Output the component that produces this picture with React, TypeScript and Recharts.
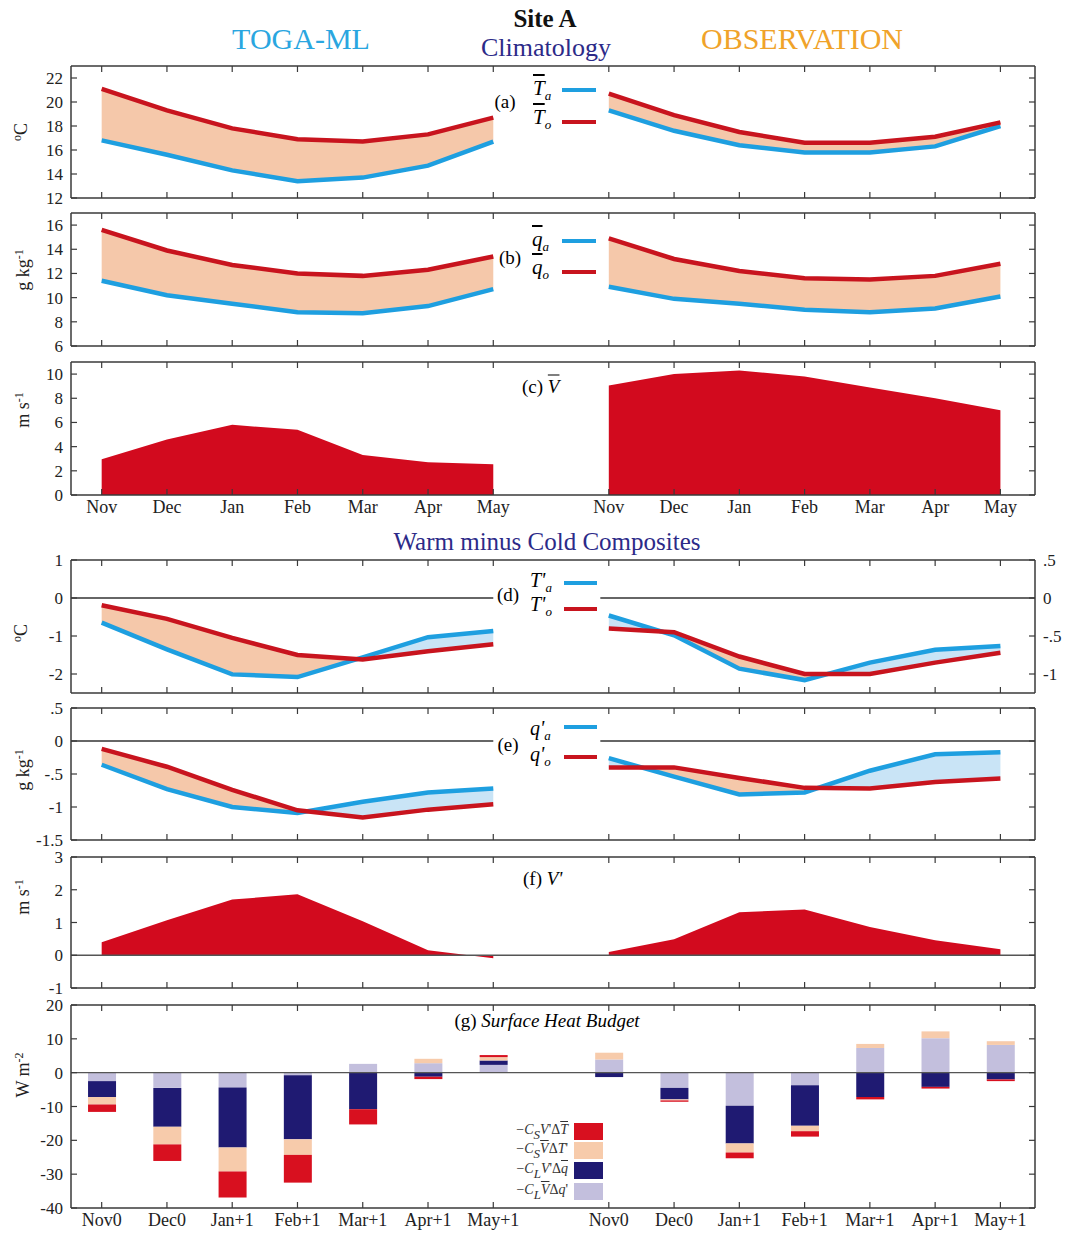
import React from 'react';
import { ComposedChart, Line, Area, Bar, XAxis, YAxis, ReferenceLine } from 'recharts';

// ---------- categories ----------
const MONTHS = ['Nov', 'Dec', 'Jan', 'Feb', 'Mar', 'Apr', 'May'];
const BUDGET_MONTHS = ['Nov0', 'Dec0', 'Jan+1', 'Feb+1', 'Mar+1', 'Apr+1', 'May+1'];

// ---------- (a) mean temperatures (°C) ----------
const TOGA_TA = [16.8, 15.6, 14.3, 13.4, 13.7, 14.7, 16.7];
const TOGA_TO = [21.1, 19.3, 17.8, 16.9, 16.7, 17.3, 18.7];
const OBS_TA = [19.3, 17.6, 16.4, 15.8, 15.8, 16.3, 18.0];
const OBS_TO = [20.7, 18.9, 17.5, 16.6, 16.6, 17.1, 18.3];

// ---------- (b) mean humidity (g/kg) ----------
const TOGA_QA = [11.4, 10.2, 9.5, 8.8, 8.7, 9.3, 10.7];
const TOGA_QO = [15.6, 13.9, 12.7, 12.0, 11.8, 12.3, 13.4];
const OBS_QA = [10.9, 9.9, 9.5, 9.0, 8.8, 9.1, 10.1];
const OBS_QO = [14.9, 13.2, 12.2, 11.6, 11.5, 11.8, 12.8];

// ---------- (c) mean wind speed (m/s) ----------
const TOGA_V = [2.96, 4.6, 5.8, 5.4, 3.3, 2.7, 2.55];
const OBS_V = [9.05, 10.0, 10.3, 9.8, 8.9, 8.0, 7.0];

// ---------- (d) temperature anomalies ----------
const TOGA_TA_ANOM = [-0.65, -1.35, -2.01, -2.08, -1.56, -1.03, -0.87];
const TOGA_TO_ANOM = [-0.19, -0.55, -1.05, -1.5, -1.62, -1.4, -1.22];
const OBS_TA_ANOM = [-0.23, -0.49, -0.93, -1.08, -0.85, -0.68, -0.63];
const OBS_TO_ANOM = [-0.4, -0.45, -0.77, -1.0, -1.0, -0.85, -0.72];

// ---------- (e) humidity anomalies ----------
const TOGA_QA_ANOM = [-0.36, -0.73, -1.0, -1.09, -0.92, -0.78, -0.72];
const TOGA_QO_ANOM = [-0.12, -0.39, -0.74, -1.05, -1.16, -1.04, -0.96];
const OBS_QA_ANOM = [-0.26, -0.54, -0.81, -0.78, -0.45, -0.2, -0.17];
const OBS_QO_ANOM = [-0.4, -0.4, -0.56, -0.71, -0.72, -0.62, -0.57];

// ---------- (f) wind anomalies ----------
const TOGA_V_ANOM = [0.4, 1.07, 1.7, 1.86, 1.04, 0.15, -0.09];
const OBS_V_ANOM = [0.1, 0.49, 1.31, 1.4, 0.86, 0.46, 0.18];

// ---------- (g) surface heat budget (W m-2) ----------
const TOGA_LAV = [-2.5, -4.5, -4.4, -0.8, 2.6, 2.8, 2.3];     // -C_L Vbar dq'
const TOGA_NAVY = [-4.7, -11.5, -17.7, -18.9, -10.8, -1.2, 1.3]; // -C_L V' dqbar
const TOGA_PEACH = [-2.2, -5.2, -7.1, -4.6, 0, 1.3, 1.0];    // -C_S Vbar dT'
const TOGA_RED = [-2.2, -4.9, -7.7, -8.2, -4.5, -0.7, 0.6];   // -C_S V' dTbar
const OBS_LAV = [3.9, -4.5, -9.8, -3.7, 7.3, 10.2, 8.2];
const OBS_NAVY = [-1.3, -3.4, -11.1, -12.0, -7.2, -4.2, -2.0];
const OBS_PEACH = [2.0, -0.3, -2.7, -1.6, 1.2, 2.0, 1.1];
const OBS_RED = [0, -0.4, -1.7, -1.6, -0.7, -0.5, -0.5];

// ---------- tick values ----------
const TICKS_A = [12, 14, 16, 18, 20, 22];
const TICKS_B = [6, 8, 10, 12, 14, 16];
const TICKS_C = [0, 2, 4, 6, 8, 10];
const TICKS_D = [-2, -1, 0, 1];
const TICKS_D_RIGHT = [-1, -0.5, 0, 0.5];
const TICKS_E = [-1.5, -1, -0.5, 0, 0.5];
const TICKS_F = [-1, 0, 1, 2, 3];
const TICKS_G = [-40, -30, -20, -10, 0, 10, 20];

// ---------- styling ----------
const SERIF = '"Liberation Serif", "Times New Roman", "DejaVu Serif", serif';
const AXIS = '#3a3a3a';
const BLUE = '#1e9fe0';
const RED = '#c8141e';
const PEACH = '#f5c8aa';
const LIGHTBLUE = '#c9e4f6';
const AREA_RED = '#d20a1e';
const BAR_RED = '#d8101f';
const BAR_PEACH = '#f7cbab';
const BAR_NAVY = '#1f1a72';
const BAR_LAV = '#c3bfdd';
const TITLE_NAVY = '#2c2a88';

const X_MIN = -0.47;
const X_MAX = 14.3;
const RIGHT_OFFSET = 7.77;
const xPos = (i: number, right: boolean) => (right ? RIGHT_OFFSET + i : i);
const X_TICKS = [...MONTHS.map((_, i) => xPos(i, false)), ...MONTHS.map((_, i) => xPos(i, true))];

const tickLabel = (labels: string[]) => (v: number) => {
  const i = Math.round(v >= RIGHT_OFFSET - 0.01 ? v - RIGHT_OFFSET : v);
  return labels[i] ?? '';
};
const shortFmt = (v: number) => {
  if (v === 0) return '0';
  const s = String(v);
  return s.replace(/^0\./, '.').replace(/^-0\./, '-.');
};
const blank = () => '';

const pts = (vals: number[], right: boolean) => vals.map((v, i) => ({ x: xPos(i, right), v }));

// band data: original points plus the crossing points of the two lines
function bands(a: number[], o: number[], right: boolean) {
  const out: { x: number; a: number; o: number }[] = [];
  for (let i = 0; i < a.length; i++) {
    const x = xPos(i, right);
    out.push({ x, a: a[i], o: o[i] });
    if (i < a.length - 1) {
      const d0 = o[i] - a[i];
      const d1 = o[i + 1] - a[i + 1];
      if (d0 * d1 < 0) {
        const t = d0 / (d0 - d1);
        const xc = x + t * (xPos(i + 1, right) - x);
        const vc = a[i] + t * (a[i + 1] - a[i]);
        out.push({ x: xc, a: vc, o: vc });
      }
    }
  }
  return out;
}

function pairSeries(key: string, a: number[], o: number[], right: boolean, yAxisId: any = 0) {
  const b = bands(a, o, right);
  return [
    <Area key={key + 'w'} data={b} yAxisId={yAxisId} type="linear" dataKey={(d: any) => [d.a, Math.max(d.a, d.o)]}
      fill={PEACH} fillOpacity={1} stroke="none" isAnimationActive={false} dot={false} activeDot={false} />,
    <Area key={key + 'c'} data={b} yAxisId={yAxisId} type="linear" dataKey={(d: any) => [d.o, Math.max(d.a, d.o)]}
      fill={LIGHTBLUE} fillOpacity={1} stroke="none" isAnimationActive={false} dot={false} activeDot={false} />,
    <Line key={key + 'a'} data={pts(a, right)} yAxisId={yAxisId} type="linear" dataKey="v" stroke={BLUE}
      strokeWidth={4.5} dot={false} activeDot={false} isAnimationActive={false} />,
    <Line key={key + 'o'} data={pts(o, right)} yAxisId={yAxisId} type="linear" dataKey="v" stroke={RED}
      strokeWidth={4.5} dot={false} activeDot={false} isAnimationActive={false} />,
  ];
}

function redArea(key: string, vals: number[], right: boolean) {
  return (
    <Area key={key} data={pts(vals, right)} type="linear" dataKey="v" baseValue={0} fill={AREA_RED}
      fillOpacity={1} stroke="none" isAnimationActive={false} dot={false} activeDot={false} />
  );
}

const budgetRows = [
  ...BUDGET_MONTHS.map((_, i) => ({ x: xPos(i, false), lav: TOGA_LAV[i], navy: TOGA_NAVY[i], peach: TOGA_PEACH[i], red: TOGA_RED[i] })),
  ...BUDGET_MONTHS.map((_, i) => ({ x: xPos(i, true), lav: OBS_LAV[i], navy: OBS_NAVY[i], peach: OBS_PEACH[i], red: OBS_RED[i] })),
];

type PanelProps = {
  top: number;
  bottom: number;
  domain: [number, number];
  ticks: number[];
  xLabels?: string[];
  right?: { domain: [number, number]; ticks: number[] };
  data?: any[];
  children: React.ReactNode;
};

const tickStyle = { fill: '#222', fontSize: 17, fontFamily: SERIF };

function Panel({ top, bottom, domain, ticks, xLabels, right, data, children }: PanelProps) {
  const mt = 10;
  const xH = xLabels ? 30 : 1;
  const mb = xLabels ? 2 : 9;
  const h = bottom - top + mt + mb + xH;
  const axisLine = { stroke: AXIS, strokeWidth: 1.5 };
  const tickLine = { stroke: AXIS, strokeWidth: 1.2 };
  const xTick = { ...tickStyle, fontSize: 18 };
  return (
    <div style={{ position: 'absolute', left: 0, top: top - mt }}>
      <ComposedChart width={1065} height={h} data={data} stackOffset="sign"
        margin={{ top: mt - 1, bottom: mb, left: 11, right: right ? 0 : 29 }}>
        <XAxis xAxisId={0} type="number" dataKey="x" domain={[X_MIN, X_MAX]} allowDataOverflow ticks={X_TICKS}
          interval={0} height={xH} tickSize={-6} tickMargin={xLabels ? 11 : 0}
          tickFormatter={xLabels ? tickLabel(xLabels) : blank} tick={xTick} axisLine={axisLine} tickLine={tickLine} />
        <XAxis xAxisId="top" orientation="top" type="number" dataKey="x" domain={[X_MIN, X_MAX]} allowDataOverflow
          ticks={X_TICKS} interval={0} height={1} tickSize={-6} tickMargin={0} tickFormatter={blank} tick={tickStyle}
          axisLine={axisLine} tickLine={tickLine} />
        <YAxis yAxisId={0} type="number" domain={domain} ticks={ticks} allowDataOverflow width={60} interval={0}
          tickSize={-6} tickMargin={14} tickFormatter={shortFmt} tick={tickStyle} axisLine={axisLine} tickLine={tickLine} />
        <YAxis yAxisId="r" orientation="right" type="number" domain={right ? right.domain : domain}
          ticks={right ? right.ticks : ticks} allowDataOverflow width={right ? 30 : 1} interval={0}
          tickSize={-6} tickMargin={right ? 14 : 0} tickFormatter={right ? shortFmt : blank} tick={tickStyle}
          axisLine={axisLine} tickLine={tickLine} />
        {children}
      </ComposedChart>
    </div>
  );
}

function Txt({ x, y, children, style }: { x: number; y: number; children: React.ReactNode; style?: React.CSSProperties }) {
  return (
    <div style={{ position: 'absolute', left: x, top: y, transform: 'translate(-50%, -50%)', whiteSpace: 'nowrap',
      fontFamily: SERIF, lineHeight: 1, ...style }}>
      {children}
    </div>
  );
}

function LeftTxt({ x, y, children, style }: { x: number; y: number; children: React.ReactNode; style?: React.CSSProperties }) {
  return (
    <div style={{ position: 'absolute', left: x, top: y, transform: 'translateY(-50%)', whiteSpace: 'nowrap',
      fontFamily: SERIF, lineHeight: 1, ...style }}>
      {children}
    </div>
  );
}

function Unit({ x, y, children }: { x: number; y: number; children: React.ReactNode }) {
  return (
    <div style={{ position: 'absolute', left: x, top: y, transform: 'translate(-50%, -50%) rotate(-90deg)',
      whiteSpace: 'nowrap', fontFamily: SERIF, fontSize: 18, color: '#222', lineHeight: 1 }}>
      {children}
    </div>
  );
}

function Swatch({ x, y, w, h, color }: { x: number; y: number; w: number; h: number; color: string }) {
  return <div style={{ position: 'absolute', left: x, top: y, width: w, height: h, background: color }} />;
}

const sup = (s: string) => <sup style={{ fontSize: 12, verticalAlign: 6 }}>{s}</sup>;
const sub = (s: string) => <sub style={{ fontSize: 13, verticalAlign: -5, fontStyle: 'italic' }}>{s}</sub>;
const bar = (s: string) => <span style={{ textDecoration: 'overline' }}>{s}</span>;

export default function App() {
  return (
    <div style={{ position: 'absolute', left: 0, top: 0, width: 1065, height: 1243, background: '#fff', overflow: 'hidden' }}>
      {/* titles */}
      <Txt x={301} y={39} style={{ fontSize: 30, color: '#2aa6e0' }}>TOGA-ML</Txt>
      <Txt x={545} y={18} style={{ fontSize: 25, fontWeight: 'bold', color: '#111' }}>Site A</Txt>
      <Txt x={546} y={48} style={{ fontSize: 26, color: TITLE_NAVY }}>Climatology</Txt>
      <Txt x={802} y={39} style={{ fontSize: 30, color: '#f0a32a' }}>OBSERVATION</Txt>
      <Txt x={547} y={541} style={{ fontSize: 25, color: TITLE_NAVY }}>Warm minus Cold Composites</Txt>

      {/* (a) */}
      <Panel top={66} bottom={198} domain={[12, 23]} ticks={TICKS_A}>
        {pairSeries('ta', TOGA_TA, TOGA_TO, false)}
        {pairSeries('oa', OBS_TA, OBS_TO, true)}
      </Panel>
      {/* (b) */}
      <Panel top={213} bottom={346} domain={[6, 17]} ticks={TICKS_B}>
        {pairSeries('tb', TOGA_QA, TOGA_QO, false)}
        {pairSeries('ob', OBS_QA, OBS_QO, true)}
      </Panel>
      {/* (c) */}
      <Panel top={362} bottom={495} domain={[0, 11]} ticks={TICKS_C} xLabels={MONTHS}>
        {redArea('tc', TOGA_V, false)}
        {redArea('oc', OBS_V, true)}
      </Panel>
      {/* (d) */}
      <Panel top={560} bottom={693} domain={[-2.5, 1]} ticks={TICKS_D} right={{ domain: [-1.25, 0.5], ticks: TICKS_D_RIGHT }}>
        <ReferenceLine segment={[{ x: X_MIN, y: 0 }, { x: 6, y: 0 }]} stroke="#333" strokeWidth={1.3} />
        <ReferenceLine segment={[{ x: RIGHT_OFFSET - 0.13, y: 0 }, { x: X_MAX, y: 0 }]} stroke="#333" strokeWidth={1.3} />
        {pairSeries('td', TOGA_TA_ANOM, TOGA_TO_ANOM, false)}
        {pairSeries('od', OBS_TA_ANOM, OBS_TO_ANOM, true, 'r')}
      </Panel>
      {/* (e) */}
      <Panel top={708} bottom={840} domain={[-1.5, 0.5]} ticks={TICKS_E}>
        <ReferenceLine segment={[{ x: X_MIN, y: 0 }, { x: 6, y: 0 }]} stroke="#333" strokeWidth={1.3} />
        <ReferenceLine segment={[{ x: RIGHT_OFFSET - 0.13, y: 0 }, { x: X_MAX, y: 0 }]} stroke="#333" strokeWidth={1.3} />
        {pairSeries('te', TOGA_QA_ANOM, TOGA_QO_ANOM, false)}
        {pairSeries('oe', OBS_QA_ANOM, OBS_QO_ANOM, true)}
      </Panel>
      {/* (f) */}
      <Panel top={857} bottom={988} domain={[-1, 3]} ticks={TICKS_F}>
        {redArea('tf', TOGA_V_ANOM, false)}
        {redArea('of', OBS_V_ANOM, true)}
        <ReferenceLine y={0} stroke="#555" strokeWidth={1.3} />
      </Panel>
      {/* (g) */}
      <Panel top={1005} bottom={1208} domain={[-40, 20]} ticks={TICKS_G} xLabels={BUDGET_MONTHS} data={budgetRows}>
        <Bar dataKey="lav" stackId="g" fill={BAR_LAV} barSize={28} isAnimationActive={false} />
        <Bar dataKey="navy" stackId="g" fill={BAR_NAVY} barSize={28} isAnimationActive={false} />
        <Bar dataKey="peach" stackId="g" fill={BAR_PEACH} barSize={28} isAnimationActive={false} />
        <Bar dataKey="red" stackId="g" fill={BAR_RED} barSize={28} isAnimationActive={false} />
        <ReferenceLine y={0} stroke="#555" strokeWidth={1.3} />
      </Panel>

      {/* unit labels */}
      <Unit x={20} y={132}>{sup('o')}C</Unit>
      <Unit x={22} y={270}>g kg{sup('-1')}</Unit>
      <Unit x={22} y={410}>m s{sup('-1')}</Unit>
      <Unit x={20} y={633}>{sup('o')}C</Unit>
      <Unit x={22} y={770}>g kg{sup('-1')}</Unit>
      <Unit x={22} y={897}>m s{sup('-1')}</Unit>
      <Unit x={22} y={1075}>W m{sup('-2')}</Unit>

      {/* (a) legend */}
      <Txt x={505} y={101} style={{ fontSize: 19 }}>(a)</Txt>
      <LeftTxt x={533} y={90} style={{ fontSize: 21, fontStyle: 'italic' }}>{bar('T')}{sub('a')}</LeftTxt>
      <Swatch x={562} y={88} w={34} h={4} color={BLUE} />
      <LeftTxt x={533} y={119} style={{ fontSize: 21, fontStyle: 'italic' }}>{bar('T')}{sub('o')}</LeftTxt>
      <Swatch x={562} y={120} w={34} h={4} color={RED} />

      {/* (b) legend */}
      <Txt x={510} y={257} style={{ fontSize: 19 }}>(b)</Txt>
      <LeftTxt x={532} y={241} style={{ fontSize: 21, fontStyle: 'italic' }}>{bar('q')}{sub('a')}</LeftTxt>
      <Swatch x={562} y={239} w={34} h={4} color={BLUE} />
      <LeftTxt x={532} y={269} style={{ fontSize: 21, fontStyle: 'italic' }}>{bar('q')}{sub('o')}</LeftTxt>
      <Swatch x={562} y={270} w={34} h={4} color={RED} />

      {/* (c) label */}
      <LeftTxt x={522} y={386} style={{ fontSize: 19 }}>(c) <i>{bar('V')}</i></LeftTxt>

      {/* (d) legend */}
      <Txt x={508} y={594} style={{ fontSize: 19 }}>(d)</Txt>
      <LeftTxt x={530} y={582} style={{ fontSize: 20, fontStyle: 'italic' }}>T'{sub('a')}</LeftTxt>
      <Swatch x={564} y={581} w={33} h={4} color={BLUE} />
      <LeftTxt x={530} y={606} style={{ fontSize: 20, fontStyle: 'italic' }}>T'{sub('o')}</LeftTxt>
      <Swatch x={564} y={607} w={33} h={4} color={RED} />

      {/* (e) legend */}
      <Txt x={508} y={744} style={{ fontSize: 19 }}>(e)</Txt>
      <LeftTxt x={530} y={730} style={{ fontSize: 20, fontStyle: 'italic' }}>q'{sub('a')}</LeftTxt>
      <Swatch x={564} y={725} w={33} h={4} color={BLUE} />
      <LeftTxt x={530} y={756} style={{ fontSize: 20, fontStyle: 'italic' }}>q'{sub('o')}</LeftTxt>
      <Swatch x={564} y={755} w={33} h={4} color={RED} />

      {/* (f) label */}
      <LeftTxt x={523} y={878} style={{ fontSize: 19 }}>(f) <i>V'</i></LeftTxt>

      {/* (g) label and legend */}
      <Txt x={547} y={1020} style={{ fontSize: 19 }}>(g) <i>Surface Heat Budget</i></Txt>
      {[
        { c: BAR_RED, y: 1123, t: <>−<i>C</i>{sub('S')}<i>V</i>'Δ<i>{bar('T')}</i></> },
        { c: BAR_PEACH, y: 1142, t: <>−<i>C</i>{sub('S')}<i>{bar('V')}</i>Δ<i>T</i>'</> },
        { c: BAR_NAVY, y: 1162, t: <>−<i>C</i>{sub('L')}<i>V</i>'Δ<i>{bar('q')}</i></> },
        { c: BAR_LAV, y: 1183, t: <>−<i>C</i>{sub('L')}<i>{bar('V')}</i>Δ<i>q</i>'</> },
      ].map((r, i) => (
        <React.Fragment key={i}>
          <Swatch x={574} y={r.y} w={29} h={17} color={r.c} />
          <div style={{ position: 'absolute', right: 1065 - 568, top: r.y + 8.5, transform: 'translateY(-50%)',
            fontFamily: SERIF, fontSize: 14, whiteSpace: 'nowrap', lineHeight: 1, color: '#333' }}>{r.t}</div>
        </React.Fragment>
      ))}
    </div>
  );
}
